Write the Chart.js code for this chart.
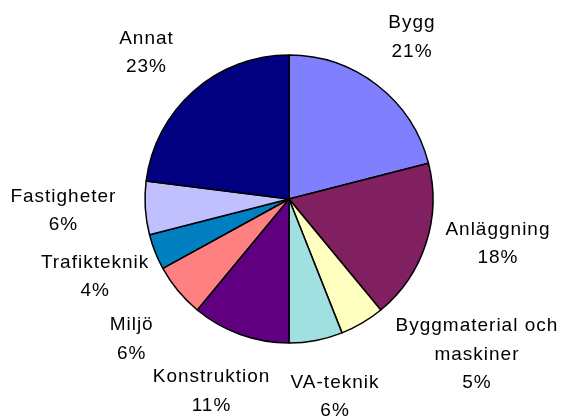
<!DOCTYPE html>
<html>
<head>
<meta charset="utf-8">
<script src="https://cdn.jsdelivr.net/npm/chart.js@4/dist/chart.umd.min.js"></script>
<style>
  html, body { margin: 0; padding: 0; background: #fff; }
  #wrap { width: 563px; height: 419px; position: relative; }
</style>
</head>
<body>
<div id="wrap"><canvas id="chart"></canvas></div>
<script>
// data (clockwise from 12 o'clock)
const categories = [
    "Bygg",
    "Anläggning",
    "Byggmaterial och\nmaskiner",
    "VA-teknik",
    "Konstruktion",
    "Miljö",
    "Trafikteknik",
    "Fastigheter",
    "Annat"
];
const shares = [21, 18, 5, 6, 11, 6, 4, 6, 23];

const sliceColors = [
    "#8080FF", "#802060", "#FFFFC0", "#A0E0E0", "#600080",
    "#FF8080", "#0080C0", "#C0C0FF", "#000080"
];

// small hand tweaks so the labels sit where the original put them
const labelNudge = [
    [8, -14], [3, -13], [63, -18], [7, 14], [-2, 16],
    [-14, 21], [9, 9], [-9, 0], [-16, -6]
];

const LABEL_FONT = "19px 'Liberation Sans', Arial, sans-serif";
const LINE_H = 28.5;
const LABEL_GAP = 20;

// draws "Name\nNN%" outside each slice
const outsideLabels = {
    id: "outsideLabels",
    afterDatasetsDraw(chart) {
        const ctx = chart.ctx;
        const meta = chart.getDatasetMeta(0);
        const total = shares.reduce((a, b) => a + b, 0);

        ctx.save();
        ctx.font = LABEL_FONT;
        ctx.fillStyle = "#000";
        ctx.textAlign = "center";
        ctx.textBaseline = "middle";
        if ("letterSpacing" in ctx) ctx.letterSpacing = "1px";

        meta.data.forEach((arc, i) => {
            const { x, y, startAngle, endAngle, outerRadius } = arc.getProps(
                ["x", "y", "startAngle", "endAngle", "outerRadius"], true);
            const mid = (startAngle + endAngle) / 2;
            const dx = Math.cos(mid);
            const dy = Math.sin(mid);

            const lines = categories[i].split("\n");
            lines.push(Math.round(shares[i] / total * 100) + "%");

            const hw = Math.max(...lines.map(l => ctx.measureText(l).width)) / 2;
            const hh = ((lines.length - 1) * LINE_H + 18) / 2;

            const r = outerRadius + LABEL_GAP;
            const cx = x + dx * r + dx * hw + labelNudge[i][0];
            const cy = y + dy * r + dy * hh + labelNudge[i][1];

            const top = cy - (lines.length - 1) * LINE_H / 2;
            lines.forEach((l, k) => ctx.fillText(l, cx, top + k * LINE_H));
        });
        ctx.restore();
    }
};

new Chart(document.getElementById("chart"), {
    type: "pie",
    data: {
        labels: categories,
        datasets: [{
            data: shares,
            backgroundColor: sliceColors,
            borderColor: "#000",
            borderWidth: 1.5
        }]
    },
    options: {
        responsive: true,
        maintainAspectRatio: false,
        animation: false,
        radius: 144,
        layout: { padding: { left: 145, right: 130, top: 55, bottom: 76 } },
        plugins: {
            legend: { display: false },
            tooltip: { enabled: false }
        }
    },
    plugins: [outsideLabels]
});
</script>
</body>
</html>
